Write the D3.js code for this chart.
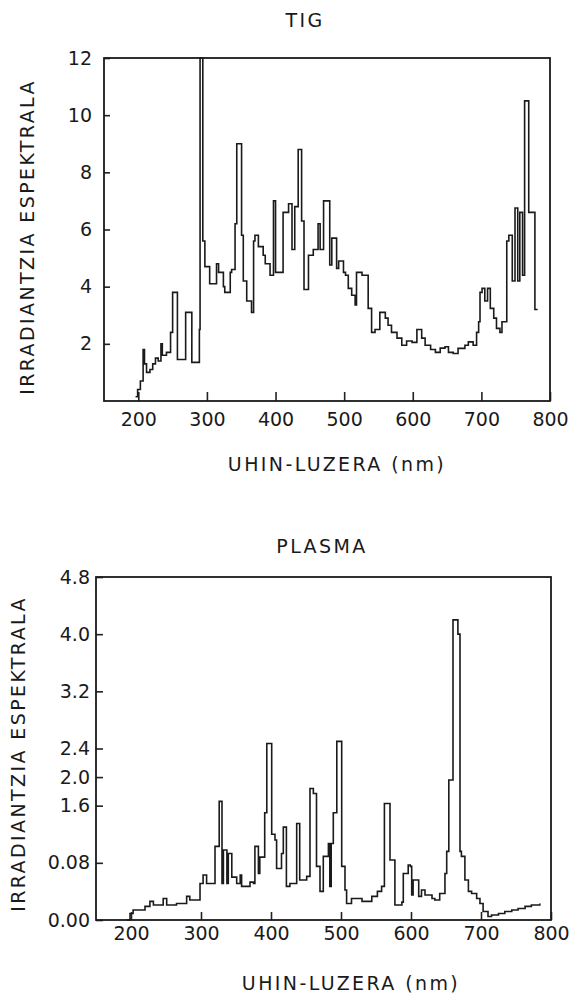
<!DOCTYPE html>
<html>
<head>
<meta charset="utf-8">
<script src="https://cdn.jsdelivr.net/npm/d3@7"></script>
<style>
  html, body { margin: 0; padding: 0; background: #fff; }
  svg { display: block; }
  text { font-family: "DejaVu Sans", Verdana, sans-serif; fill: #1a1a1a; }
</style>
</head>
<body>
<svg id="chart" width="575" height="997"></svg>
<script>
// ---------- DATA ----------
const tigWavelength = [196,199,203,207,209,212,217,221,225,229,233,235,241,247,250,257,269,278,289,290,294,297,304,314,317,324,326,334,336,341,343.5,350.5,353,358,365,368,370,375,382,385,392,397,400,411,419,424,428,433,438,441.5,448,455,462,465,470,479,482,489,492,499,502,506,511,516,518,526,535,540,545,552,560,564,569,577,584,591,599,606,613,618,626,633,640,647,652,659,666,676,681,688,693,696,698,701,705,709,713,718,722,727,730,737,740,745,749,753,756,760,763,769,778,782];
const tigIrradiance = [0.15,0.4,0.7,1.8,1.3,1.0,1.1,1.3,1.5,1.4,2.0,1.6,1.7,2.4,3.8,1.45,3.1,1.35,2.5,12.0,5.6,4.7,4.1,4.8,4.5,4.0,3.8,4.5,4.6,6.2,9.0,5.8,4.2,3.5,3.1,5.6,5.8,5.4,5.1,4.8,4.4,7.0,4.5,6.6,6.9,5.3,6.8,8.8,6.3,3.9,5.1,5.3,6.2,5.3,7.0,4.76,5.7,4.64,4.9,4.5,4.4,3.94,3.7,3.36,4.5,4.4,3.24,2.4,2.5,3.1,2.9,2.65,2.4,2.2,1.95,2.1,2.05,2.5,2.2,1.95,1.8,1.7,1.85,1.9,1.7,1.66,1.84,1.95,2.07,1.95,2.4,2.77,3.8,3.94,3.5,3.94,3.24,2.9,2.54,2.4,2.77,5.6,5.8,4.2,6.75,4.2,6.6,4.4,10.5,6.6,3.2,3.2];

const plasmaWavelength = [194,198.6,203,220,227,232,246,251,265,279.5,284,298.6,303,308,320,326,330,332,337,339,344,351,356,358,370,375,377,382,384,391,394,401,405.7,408,415,417.6,422,427,436.7,441,451,455.7,460.5,465,470,474.7,477,482,484,486,489,494,501,505.7,508,515,530,544,552,558,562,570,577,587,589,596,599,601,603,611,615,620,630,634,641,648.5,651,654,660,667,670,672,677,682,686.6,693.8,698.5,703,710,715,725,734,744,753,763,772,782,784];
const plasmaIrradiance = [0.0,0.09,0.14,0.19,0.26,0.21,0.3,0.21,0.23,0.33,0.28,0.51,0.63,0.51,1.03,1.66,0.51,0.98,0.51,0.93,0.6,0.51,0.63,0.47,0.53,0.51,1.03,0.65,0.88,1.5,2.47,1.2,1.12,0.72,0.93,1.3,0.47,0.51,1.35,0.56,0.61,1.84,1.77,0.75,0.4,0.89,0.89,1.07,0.47,1.07,1.5,2.5,0.75,0.42,0.23,0.3,0.26,0.33,0.4,0.47,1.63,0.84,0.21,0.25,0.65,0.77,0.75,0.35,0.56,0.33,0.42,0.35,0.3,0.28,0.37,0.65,0.96,1.96,4.2,4.0,0.96,0.89,0.56,0.4,0.37,0.3,0.23,0.12,0.05,0.07,0.09,0.12,0.14,0.16,0.19,0.21,0.21,0.23,0.23];

const xTickValues = [200,300,400,500,600,700,800];
const xTickLabels = ["200","300","400","500","600","700","800"];
const tigYTickValues = [2,4,6,8,10,12];
const tigYTickLabels = ["2","4","6","8","10","12"];
const plasmaYTickValues = [0,0.8,1.6,2.0,2.4,3.2,4.0,4.8];
const plasmaYTickLabels = ["0.00","0.08","1.6","2.0","2.4","3.2","4.0","4.8"];
const titles = ["TIG","PLASMA"];
const xAxisTitle = "UHIN-LUZERA (nm)";
const yAxisTitle = "IRRADIANTZIA ESPEKTRALA";

// ---------- LAYOUT ----------
const svg = d3.select("#chart");
const panels = [
  { title: titles[0], wl: tigWavelength, val: tigIrradiance, yMax: 12,
    yTicks: tigYTickValues, yLabels: tigYTickLabels,
    left: 104, right: 550, top: 58, bottom: 401,
    titleX: 305, titleY: 27, xlabX: 337, xlabY: 471, ylabX: 34, ylabY: 237,
    xPad: 11.5, yPad: 12, xTick: 9, yTick: 6 },
  { title: titles[1], wl: plasmaWavelength, val: plasmaIrradiance, yMax: 4.8,
    yTicks: plasmaYTickValues, yLabels: plasmaYTickLabels,
    left: 96, right: 551, top: 577, bottom: 920,
    titleX: 322, titleY: 553, xlabX: 351, xlabY: 990, ylabX: 25, ylabY: 754,
    xPad: 7, yPad: 6, xTick: 8, yTick: 7 }
];

panels.forEach(p => {
  const x = d3.scaleLinear().domain([150, 800]).range([p.left, p.right]);
  const y = d3.scaleLinear().domain([0, p.yMax]).range([p.bottom, p.top]);
  const g = svg.append("g");

  // x axis
  const xa = g.append("g").attr("transform", `translate(0,${p.bottom})`)
    .call(d3.axisBottom(x).tickValues(xTickValues)
      .tickFormat((d, i) => xTickLabels[i])
      .tickSizeInner(-p.xTick).tickSizeOuter(0).tickPadding(p.xPad));
  // y axis
  const ya = g.append("g").attr("transform", `translate(${p.left},0)`)
    .call(d3.axisLeft(y).tickValues(p.yTicks)
      .tickFormat((d, i) => p.yLabels[i])
      .tickSizeInner(-p.yTick).tickSizeOuter(0).tickPadding(p.yPad));
  [xa, ya].forEach(a => {
    a.select(".domain").remove();
    a.selectAll(".tick line").attr("stroke", "#222").attr("stroke-width", 1.6);
    a.selectAll(".tick text").style("font-size", "19px")
      .style("font-family", "'DejaVu Sans', sans-serif").attr("fill", "#333");
  });

  // frame
  g.append("rect")
    .attr("x", p.left).attr("y", p.top)
    .attr("width", p.right - p.left).attr("height", p.bottom - p.top)
    .attr("fill", "none").attr("stroke", "#1a1a1a").attr("stroke-width", 1.8);

  // spectrum (step line)
  const pts = p.wl.map((w, i) => [w, p.val[i]]);
  const line = d3.line().x(d => x(d[0])).y(d => y(d[1])).curve(d3.curveStepAfter);
  g.append("path").datum(pts)
    .attr("d", line).attr("fill", "none")
    .attr("stroke", "#1a1a1a").attr("stroke-width", 1.6)
    .attr("stroke-linejoin", "miter");

  // title
  g.append("text").attr("x", p.titleX).attr("y", p.titleY)
    .attr("text-anchor", "middle").style("font-size", "19px")
    .style("letter-spacing", "2.4px").text(p.title);
  // x axis title
  g.append("text").attr("x", p.xlabX).attr("y", p.xlabY)
    .attr("text-anchor", "middle").style("font-size", "19px")
    .style("letter-spacing", "2.4px").text(xAxisTitle);
  // y axis title
  g.append("text")
    .attr("transform", `translate(${p.ylabX},${p.ylabY}) rotate(-90)`)
    .attr("text-anchor", "middle").style("font-size", "19px")
    .style("letter-spacing", "2.4px").text(yAxisTitle);
});
</script>
</body>
</html>
